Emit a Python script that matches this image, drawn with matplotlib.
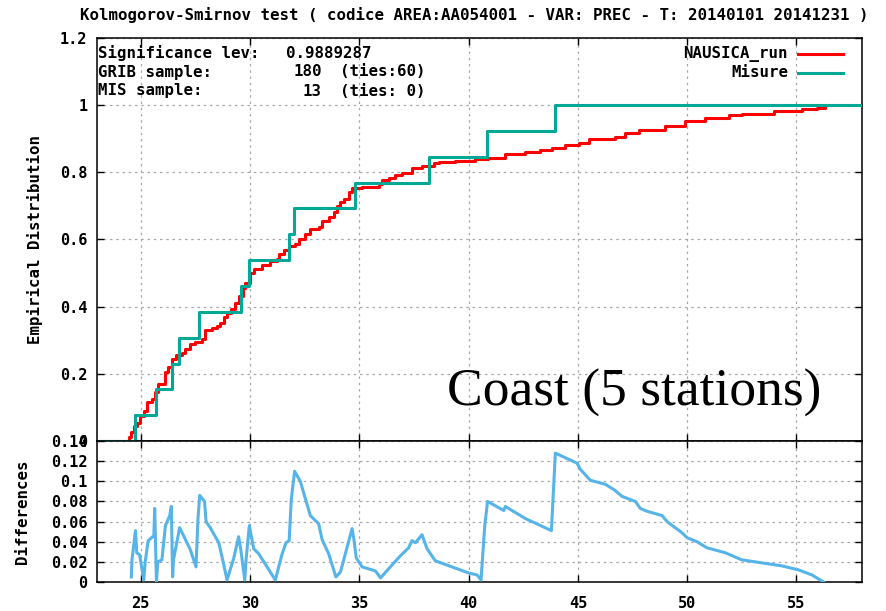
import matplotlib
matplotlib.use("Agg")
import matplotlib.pyplot as plt
import numpy as np

# Misure sample values (13 stations' sorted observations)
mis_x = [24.73, 25.72, 26.43, 26.74, 27.66, 29.57, 29.97, 31.80, 32.03,
         34.79, 38.20, 40.84, 43.94]

# NAUSICA_run empirical CDF breakpoints
run_x = [24.45, 24.57, 24.70, 24.83, 24.99, 25.14, 25.29, 25.52, 25.64, 25.79,
         26.10, 26.25, 26.43, 26.62, 26.89, 27.04, 27.27, 27.50, 27.80, 27.93,
         28.26, 28.49, 28.64, 28.80, 28.95, 29.15, 29.33, 29.48, 29.67, 29.79,
         30.02, 30.17, 30.55, 30.93, 31.24, 31.31, 31.54, 31.77, 32.08, 32.23,
         32.53, 32.76, 33.14, 33.29, 33.60, 33.83, 33.98, 34.14, 34.29, 34.51,
         34.67, 35.12, 35.89, 36.04, 36.35, 36.65, 36.96, 37.41, 37.87, 38.40,
         38.63, 39.40, 40.31, 40.90, 41.68, 42.60, 43.28, 43.82, 44.43, 45.04,
         45.49, 46.71, 47.17, 47.78, 49.00, 49.92, 50.83, 51.90, 52.50, 53.96,
         55.25, 55.94, 56.32]
run_f = [0.011, 0.026, 0.045, 0.055, 0.075, 0.090, 0.115, 0.125, 0.145, 0.170,
         0.204, 0.220, 0.243, 0.255, 0.263, 0.275, 0.288, 0.295, 0.305, 0.330,
         0.335, 0.343, 0.350, 0.368, 0.382, 0.392, 0.410, 0.432, 0.455, 0.470,
         0.500, 0.512, 0.523, 0.535, 0.543, 0.556, 0.568, 0.580, 0.587, 0.602,
         0.617, 0.630, 0.637, 0.655, 0.667, 0.682, 0.700, 0.712, 0.722, 0.742,
         0.752, 0.757, 0.764, 0.777, 0.784, 0.792, 0.799, 0.812, 0.820, 0.828,
         0.832, 0.835, 0.840, 0.844, 0.855, 0.860, 0.866, 0.871, 0.881, 0.888,
         0.898, 0.906, 0.916, 0.926, 0.939, 0.953, 0.963, 0.970, 0.975, 0.983,
         0.988, 0.993, 1.000]

# |F_run - F_mis| along the run samples
diff_x = [24.57, 24.60, 24.76, 24.82, 24.95, 25.14, 25.20, 25.34, 25.60, 25.64,
          25.72, 25.78, 25.97, 26.13, 26.33, 26.40, 26.46, 26.50, 26.71, 26.78,
          26.96, 27.27, 27.53, 27.62, 27.70, 27.92, 27.99, 28.18, 28.57, 28.72,
          28.95, 29.26, 29.48, 29.58, 29.76, 29.82, 29.97, 30.09, 30.17, 30.40,
          31.16, 31.47, 31.65, 31.79, 31.89, 32.04, 32.30, 32.76, 32.99, 33.14,
          33.30, 33.60, 33.93, 34.14, 34.67, 34.75, 34.86, 35.13, 35.74, 35.97,
          36.42, 36.88, 37.26, 37.41, 37.57, 37.87, 38.10, 38.48, 39.24, 40.00,
          40.39, 40.57, 40.74, 40.87, 41.61, 41.68, 42.60, 43.79, 43.97, 44.96,
          45.11, 45.57, 46.26, 46.70, 47.02, 47.63, 47.86, 48.20, 48.85, 49.08,
          49.76, 49.99, 50.45, 50.90, 51.75, 52.50, 53.42, 54.34, 55.10, 55.71,
          56.24]
diff_y = [0.005, 0.022, 0.051, 0.029, 0.027, 0.002, 0.019, 0.041, 0.046, 0.073,
          0.000, 0.020, 0.022, 0.056, 0.066, 0.075, 0.005, 0.022, 0.046, 0.054,
          0.046, 0.032, 0.015, 0.063, 0.086, 0.080, 0.060, 0.054, 0.039, 0.025,
          0.002, 0.024, 0.045, 0.032, 0.002, 0.022, 0.056, 0.042, 0.033, 0.028,
          0.002, 0.028, 0.039, 0.041, 0.082, 0.110, 0.100, 0.066, 0.061, 0.058,
          0.042, 0.028, 0.005, 0.010, 0.053, 0.043, 0.024, 0.015, 0.011, 0.004,
          0.015, 0.026, 0.034, 0.041, 0.039, 0.047, 0.033, 0.021, 0.015, 0.009,
          0.007, 0.002, 0.056, 0.080, 0.071, 0.075, 0.063, 0.051, 0.128, 0.118,
          0.112, 0.101, 0.097, 0.091, 0.085, 0.080, 0.073, 0.070, 0.066, 0.060,
          0.049, 0.044, 0.040, 0.034, 0.029, 0.022, 0.019, 0.016, 0.012, 0.007,
          0.000]

x_ticks = [25, 30, 35, 40, 45, 50, 55]
cdf_ticks = [0, 0.2, 0.4, 0.6, 0.8, 1.0, 1.2]
cdf_labels = ["0", "0.2", "0.4", "0.6", "0.8", "1", "1.2"]
diff_ticks = [0, 0.02, 0.04, 0.06, 0.08, 0.10, 0.12, 0.14]
diff_labels = ["0", "0.02", "0.04", "0.06", "0.08", "0.1", "0.12", "0.14"]

title = ("Kolmogorov-Smirnov test ( codice AREA:AA054001 - VAR: PREC - "
         "T: 20140101 20141231 )")
stats_rows = [("Significance lev:", "0.9889287", ""),
              ("GRIB sample:", "180", "(ties:60)"),
              ("MIS sample:", "13", "(ties: 0)")]

RED = "#ff0000"
TEAL = "#00a896"
BLUE = "#56b4e9"
GRID = "#a8a8a8"
XMIN, XMAX = 23, 58

W, H = 886, 611
mono = dict(family="DejaVu Sans Mono", weight="bold", size=11.3)


def fx(px):
    return px / W


def fy(py):
    return 1 - py / H


def style_axes(ax):
    ax.set_xlim(XMIN, XMAX)
    ax.set_xticks(x_ticks)
    ax.tick_params(direction="in", length=5, width=1, top=True, right=True,
                   labelsize=11)
    ax.tick_params(axis="x", pad=10)
    ax.tick_params(axis="y", pad=7)
    for lab in ax.get_xticklabels() + ax.get_yticklabels():
        lab.set_fontfamily("DejaVu Sans Mono")
        lab.set_fontweight("bold")
    ax.grid(True, linestyle=(0, (2, 3)), color=GRID, linewidth=0.9)
    for sp in ax.spines.values():
        sp.set_linewidth(1.1)


fig = plt.figure(figsize=(W / 100, H / 100), dpi=100)

# upper panel: empirical CDFs
ax1 = fig.add_axes([fx(97), fy(441), fx(862) - fx(97), fy(38) - fy(441)])
ax1.set_ylim(0, 1.2)
ax1.set_yticks(cdf_ticks)
ax1.set_yticklabels(cdf_labels)
ax1.set_xticklabels([])
style_axes(ax1)

ax1.step([XMIN] + run_x, [0.0] + run_f, where="post", color=RED, lw=2.2,
         zorder=3)
mis_f = np.arange(1, len(mis_x) + 1) / len(mis_x)
ax1.step([XMIN] + mis_x + [XMAX], [0.0] + list(mis_f) + [1.0], where="post",
         color=TEAL, lw=2.2, zorder=4)
ax1.set_ylabel("Empirical Distribution", fontdict=mono)
ax1.yaxis.set_label_coords(-0.071, 0.5)

# lower panel: absolute differences
ax2 = fig.add_axes([fx(97), fy(582), fx(862) - fx(97), fy(441) - fy(582)])
ax2.set_ylim(0, 0.14)
ax2.set_yticks(diff_ticks)
ax2.set_yticklabels(diff_labels)
style_axes(ax2)
ax2.plot(diff_x, diff_y, color=BLUE, lw=2.2, zorder=3)
ax2.set_ylabel("Differences", fontdict=mono)
ax2.yaxis.set_label_coords(-0.087, 0.5)

fig.text(fx(474), fy(15), title, ha="center", va="center", **mono)

# statistics box in the top-left corner
for i, (lab, val, ties) in enumerate(stats_rows):
    y = fy(53 + 19 * i)
    fig.text(fx(98), y, lab, ha="left", va="center", **mono)
    if ties:
        fig.text(fx(322), y, val, ha="right", va="center", **mono)
        fig.text(fx(340), y, ties, ha="left", va="center", **mono)
    else:
        fig.text(fx(286), y, val, ha="left", va="center", **mono)

# legend drawn gnuplot-style: label then line sample
for i, (name, col) in enumerate([("NAUSICA_run", RED), ("Misure", TEAL)]):
    y = fy(54 + 18.5 * i)
    fig.text(fx(788), y, name, ha="right", va="center", **mono)
    fig.add_artist(plt.Line2D([fx(798), fx(843)], [y, y], color=col, lw=2.2))

fig.text(fx(447), fy(406), "Coast (5 stations)", ha="left", va="baseline",
         family="Liberation Serif", fontsize=38.5, color="black")

fig.savefig("out.png", dpi=100)
